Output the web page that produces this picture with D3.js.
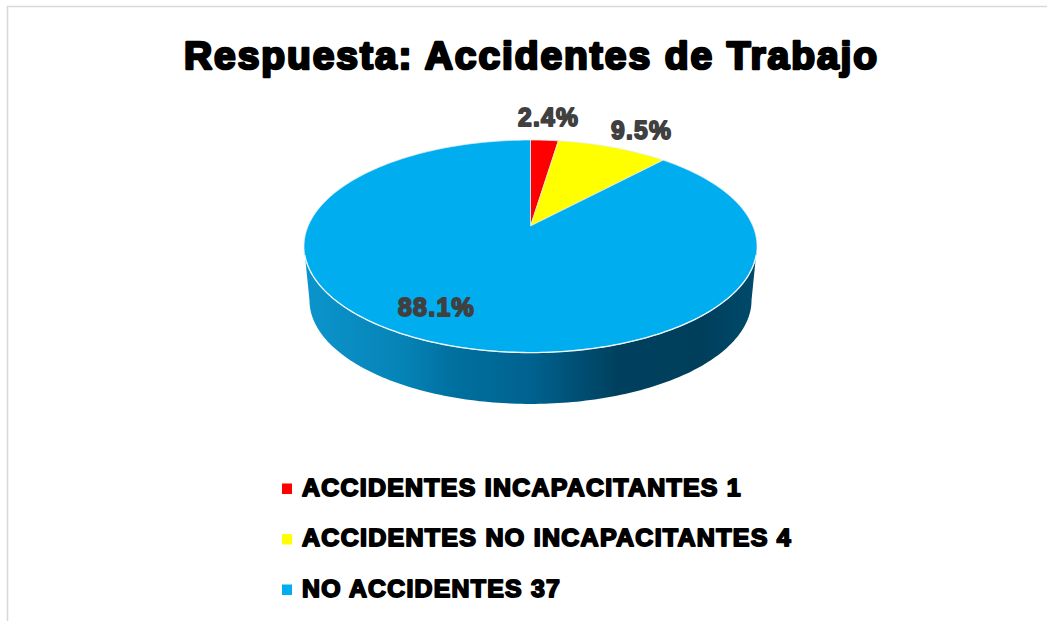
<!DOCTYPE html>
<html>
<head>
<meta charset="utf-8">
<script src="https://cdn.jsdelivr.net/npm/d3@7"></script>
<style>
  html, body { margin: 0; padding: 0; background: #fff; }
  svg { display: block; }
  text { font-family: "Liberation Sans", Arial, sans-serif; font-weight: 700; paint-order: stroke; stroke-linejoin: round; letter-spacing: 0.05em; }
</style>
</head>
<body>
<div id="chart"></div>
<script>
const titleText = "Respuesta: Accidentes de Trabajo";
const categories = ["ACCIDENTES INCAPACITANTES", "ACCIDENTES NO INCAPACITANTES", "NO ACCIDENTES"];
const counts = [1, 4, 37];
const colors = ["#ff0000", "#ffff00", "#00aeef"];

const svg = d3.select("#chart").append("svg")
  .attr("width", 1047)
  .attr("height", 621);

// Chart frame, only top and left edges are inside the crop
svg.append("path")
  .attr("d", "M7.5,621V6.5H1047")
  .attr("fill", "none")
  .attr("stroke", "#d9d9d9")
  .attr("stroke-width", 1.6);

// Perspective of the disc: k shifts the apex up from the centre of the ellipse
const k = -0.191;
const pieX = 530.5;
const pieY = 226;
const scaleX = 222.3;
const scaleY = 102.4;

function project(theta, s, cy) {
  const u = Math.sin(theta);
  const v = -Math.cos(theta);
  const w = 1 + k * v;
  return [pieX + s * scaleX * u / w, cy + s * scaleY * v / w];
}

const step = Math.PI / 180;
const sampled = (a0, a1) => d3.range(a0, a1, step).concat([a1]);
const line = d3.line();

// Outermost points of the projected disc, where the wall starts and ends
const edgeA = Math.acos(k);
const edgeB = 2 * Math.PI - edgeA;

// Side wall
const defs = svg.append("defs");
const wallGrad = defs.append("linearGradient")
  .attr("id", "wall-grad")
  .attr("gradientUnits", "userSpaceOnUse")
  .attr("x1", 304).attr("x2", 757)
  .attr("y1", 0).attr("y2", 0);

[
  [0, "#0b95cd"],
  [0.22, "#0683b6"],
  [0.33, "#00709f"],
  [0.5, "#006290"],
  [0.69, "#00405e"],
  [0.88, "#003f5c"],
  [1, "#004a6c"]
].forEach(d => wallGrad.append("stop").attr("offset", d[0]).attr("stop-color", d[1]));

const wallDepth = 0.976;
const wallY = 280.4;
const wallTop = sampled(edgeA, edgeB).map(a => project(a, 1, pieY));
const wallBottom = sampled(edgeA, edgeB).map(a => project(a, wallDepth, wallY)).reverse();

svg.append("path")
  .attr("d", line(wallTop.concat(wallBottom)) + "Z")
  .attr("fill", "url(#wall-grad)");

// Top of the pie
const pie = d3.pie().sort(null)(counts);

svg.append("g").selectAll("path")
  .data(pie)
  .enter()
  .append("path")
  .attr("d", d => line([[pieX, pieY]].concat(sampled(d.startAngle, d.endAngle).map(a => project(a, 1, pieY)))) + "Z")
  .attr("fill", (d, i) => colors[i])
  .attr("stroke", "#e4eef2")
  .attr("stroke-width", 0.7)
  .attr("stroke-linejoin", "round");

// Light rim along the front edge
svg.append("path")
  .attr("d", line(sampled(edgeA + 0.08, edgeB - 0.08).map(a => project(a, 1, pieY))))
  .attr("fill", "none")
  .attr("stroke", "#eef6fa")
  .attr("stroke-width", 1.3);

// Title
function heavyText(str, x, y, size, len, fill, sw) {
  return svg.append("text")
    .attr("x", x)
    .attr("y", y)
    .attr("font-size", size)
    .attr("textLength", len)
    .attr("lengthAdjust", "spacingAndGlyphs")
    .attr("fill", fill)
    .attr("stroke", fill)
    .attr("stroke-width", sw)
    .text(str);
}

heavyText(titleText, 184, 68.5, 39, 695, "#000", 2.6);

// Percent labels
const total = d3.sum(counts);
const pct = d3.format(".1%");
const labelAt = [[518, 125.5, 61], [611, 138.5, 61], [398, 315.5, 77]];

pie.forEach((d, i) => {
  heavyText(pct(d.value / total), labelAt[i][0], labelAt[i][1], 26, labelAt[i][2], "#404040", 1.8);
});

// Legend
const legendY = d3.scalePoint().domain(categories).range([495.5, 596.5]);
const legendLen = [440, 490, 259];

categories.forEach((c, i) => {
  const y = legendY(c);
  svg.append("rect")
    .attr("x", 282)
    .attr("y", y - 12)
    .attr("width", 10)
    .attr("height", 10.5)
    .attr("fill", colors[i]);
  heavyText(`${c} ${counts[i]}`, 302, y, 24.5, legendLen[i], "#000", 1.8);
});
</script>
</body>
</html>
